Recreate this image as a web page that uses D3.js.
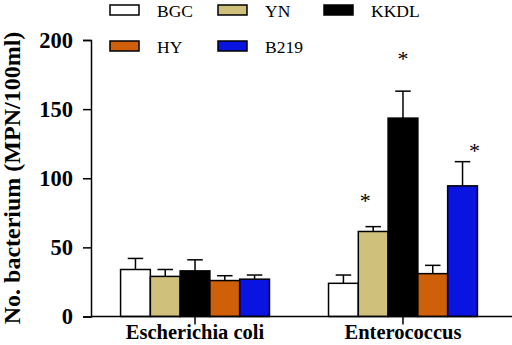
<!DOCTYPE html>
<html>
<head>
<meta charset="utf-8">
<script src="https://cdn.jsdelivr.net/npm/d3@7"></script>
<style>
  body { margin: 0; background: #fff; }
</style>
</head>
<body>
<svg width="512" height="345"></svg>
<script>
var groups = ['Escherichia coli', 'Enterococcus'];
var series = ['BGC', 'YN', 'KKDL', 'HY', 'B219'];
var colors = ['#ffffff', '#cfc07c', '#000000', '#d05f0a', '#0a14e0'];
var means = {
    'Escherichia coli': [34, 29, 33, 26, 27],
    'Enterococcus': [24, 61.5, 143.5, 31, 94.5]
};
var errs = {
    'Escherichia coli': [8, 5, 8, 3.5, 3],
    'Enterococcus': [6, 3.5, 19.5, 6, 17.5]
};
var stars = {
    'Escherichia coli': [false, false, false, false, false],
    'Enterococcus': [false, true, true, false, true]
};
var yTicks = [0, 50, 100, 150, 200];

// nudges for the significance marks, per series (dx, dy from error bar top)
var starNudge = [[0, -20], [-8, -19], [0, -25], [0, -20], [12, -4]];

var FONT = 'Liberation Serif';
var svg = d3.select('svg').attr('font-family', FONT);

var yScale = d3.scaleLinear()
    .domain([0, 200])
    .range([316.5, 40]);

var xScale = d3.scaleBand()
    .domain(groups)
    .range([90, 508])
    .paddingInner(0.284)
    .paddingOuter(0.147);

var inner = d3.scaleBand()
    .domain(series)
    .range([0, xScale.bandwidth()]);

var g = svg.selectAll('g.group')
    .data(groups)
    .enter()
    .append('g')
    .attr('class', 'group')
    .attr('transform', function(d){ return 'translate(' + xScale(d) + ',0)'; });

g.each(function(grp){
    var sel = d3.select(this);
    series.forEach(function(s, i){
        var x = inner(s), w = inner.bandwidth();
        var v = means[grp][i], e = errs[grp][i];
        var cx = x + w / 2;
        sel.append('line')
            .attr('x1', cx).attr('x2', cx)
            .attr('y1', yScale(v)).attr('y2', yScale(v + e))
            .attr('stroke', '#000').attr('stroke-width', 1.5);
        sel.append('line')
            .attr('x1', cx - w * 0.26).attr('x2', cx + w * 0.26)
            .attr('y1', yScale(v + e)).attr('y2', yScale(v + e))
            .attr('stroke', '#000').attr('stroke-width', 1.5);
        sel.append('rect')
            .attr('x', x).attr('width', w)
            .attr('y', yScale(v))
            .attr('height', yScale(0) - yScale(v))
            .attr('fill', colors[i])
            .attr('stroke', '#000').attr('stroke-width', 1.5);
        if (stars[grp][i]) {
            sel.append('text')
                .attr('x', cx + starNudge[i][0])
                .attr('y', yScale(v + e) + starNudge[i][1])
                .attr('text-anchor', 'middle')
                .attr('font-family', FONT)
                .attr('font-size', 22)
                .text('*');
        }
    });
});

var yAxis = d3.axisLeft(yScale).tickValues(yTicks).tickSize(8).tickPadding(10);

svg.append('g')
    .attr('class', 'y axis')
    .attr('transform', 'translate(91,0)')
    .call(yAxis)
    .attr('font-family', FONT)
    .call(function(a){
        a.select('.domain').attr('stroke-width', 1.5);
        a.selectAll('.tick line').attr('stroke-width', 1.5);
        a.selectAll('text')
            .attr('font-size', 22.5)
            .attr('font-weight', 'bold')
            .attr('fill', '#000');
    });

var xAxis = d3.axisBottom(xScale).tickSize(8).tickSizeOuter(0).tickPadding(0);

svg.append('g')
    .attr('class', 'x axis')
    .attr('transform', 'translate(0,316.5)')
    .call(xAxis)
    .attr('font-family', FONT)
    .call(function(a){
        a.select('.domain').attr('stroke-width', 1.5).attr('d', 'M91,0H512');
        a.selectAll('.tick line').attr('stroke-width', 1.5);
        a.selectAll('text')
            .attr('font-size', 20.5)
            .attr('font-weight', 'bold')
            .attr('fill', '#000');
    });

svg.append('text')
    .attr('class', 'label')
    .attr('transform', 'translate(20,178) rotate(-90)')
    .attr('text-anchor', 'middle')
    .attr('font-family', FONT)
    .attr('font-size', 24)
    .attr('font-weight', 'bold')
    .text('No. bacterium (MPN/100ml)');

// legend: two rows
var legendPos = [[110, 5], [218, 5], [324, 5], [110, 41], [218, 41]];
var legend = svg.selectAll('g.legend')
    .data(series)
    .enter()
    .append('g')
    .attr('class', 'legend')
    .attr('transform', function(d, i){ return 'translate(' + legendPos[i][0] + ',' + legendPos[i][1] + ')'; });

legend.append('rect')
    .attr('width', 29).attr('height', 10)
    .attr('fill', function(d, i){ return colors[i]; })
    .attr('stroke', '#000').attr('stroke-width', 1.5);

legend.append('text')
    .attr('x', 47).attr('y', 12)
    .attr('font-family', FONT)
    .attr('font-size', 17.5)
    .text(function(d){ return d; });
</script>
</body>
</html>
